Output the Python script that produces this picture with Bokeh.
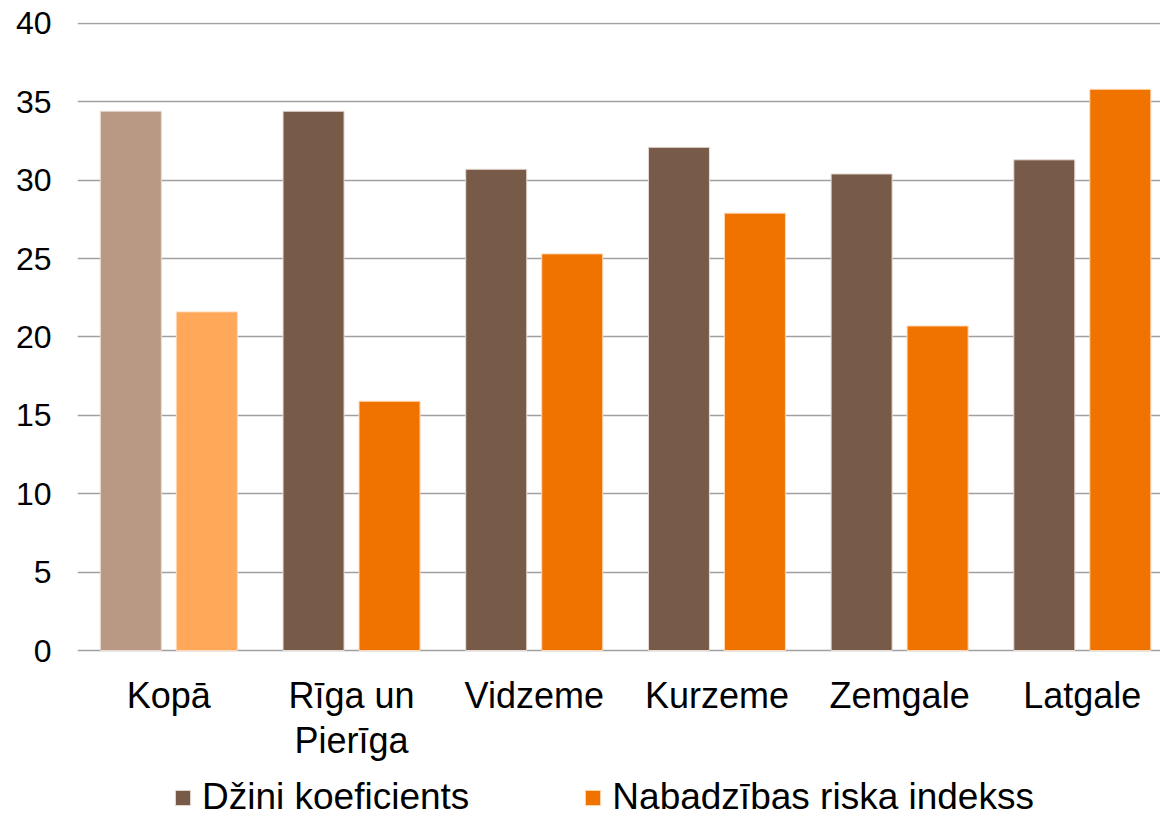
import numpy as np
from bokeh.plotting import figure
from bokeh.models import ColumnDataSource, FixedTicker, Legend, LegendItem
from bokeh.core.properties import value
from bokeh.embed import file_html
from bokeh.resources import INLINE

categories = ["Kopā", "Rīga un\nPierīga", "Vidzeme", "Kurzeme", "Zemgale", "Latgale"]
gini = [34.4, 34.4, 30.7, 32.1, 30.4, 31.3]
poverty = [21.6, 15.9, 25.3, 27.9, 20.7, 35.8]
gini_colors = ["#B99984", "#775A48", "#775A48", "#775A48", "#775A48", "#775A48"]
poverty_colors = ["#FFA85A", "#F07300", "#F07300", "#F07300", "#F07300", "#F07300"]
y_ticks = [0, 5, 10, 15, 20, 25, 30, 35, 40]

FONT = "Liberation Sans"
idx = np.arange(len(categories)) + 0.5

src_g = ColumnDataSource(dict(x=idx - 0.208, top=gini, color=gini_colors))
src_p = ColumnDataSource(dict(x=idx + 0.208, top=poverty, color=poverty_colors))
src_lbl = ColumnDataSource(dict(x=idx, y=[0] * len(categories), text=categories))

p = figure(width=1160, height=819, x_range=(0, 5.928), y_range=(-10.78, 40.06),
           output_backend="svg", toolbar_location=None,
           min_border_left=77, min_border_right=0, min_border_top=22,
           min_border_bottom=0)
p.outline_line_color = None
p.background_fill_color = "white"

rg = p.vbar(x="x", top="top", bottom=0, width=0.334, source=src_g, fill_color="color",
            line_color="#E8DDD6", line_width=1)
rp = p.vbar(x="x", top="top", bottom=0, width=0.334, source=src_p, fill_color="color",
            line_color="#FFD9B8", line_width=1)

# category labels under the zero line
p.text(x="x", y="y", text="text", source=src_lbl, text_align="center",
       text_baseline="top", y_offset=24, text_font=value(FONT),
       text_font_size="36px", text_color="#000000", text_line_height=1.12)

p.xaxis.visible = False
p.xgrid.grid_line_color = None
p.ygrid.grid_line_color = "#A0A0A0"
p.ygrid.grid_line_width = 1.6
p.ygrid.ticker = FixedTicker(ticks=y_ticks)
p.yaxis.ticker = FixedTicker(ticks=y_ticks)
p.yaxis.axis_line_color = None
p.yaxis.major_tick_line_color = None
p.yaxis.minor_tick_line_color = None
p.yaxis.major_tick_out = 0
p.yaxis.major_tick_in = 0
p.yaxis.minor_tick_out = 0
p.yaxis.major_label_standoff = 26
p.yaxis.major_label_text_font = FONT
p.yaxis.major_label_text_font_size = "32px"
p.yaxis.major_label_text_color = "#000000"

legend = Legend(items=[LegendItem(label="Džini koeficients", renderers=[rg], index=1),
                       LegendItem(label="Nabadzības riska indekss", renderers=[rp], index=1)],
                orientation="horizontal", location=(96, 1),
                label_text_font=FONT, label_text_font_size="37px",
                label_text_color="#000000", glyph_width=19, glyph_height=19,
                label_standoff=10, spacing=114, border_line_color=None,
                background_fill_alpha=0, padding=0, margin=0)
p.add_layout(legend, "center")

open("out.html", "w").write(file_html(p, INLINE))
